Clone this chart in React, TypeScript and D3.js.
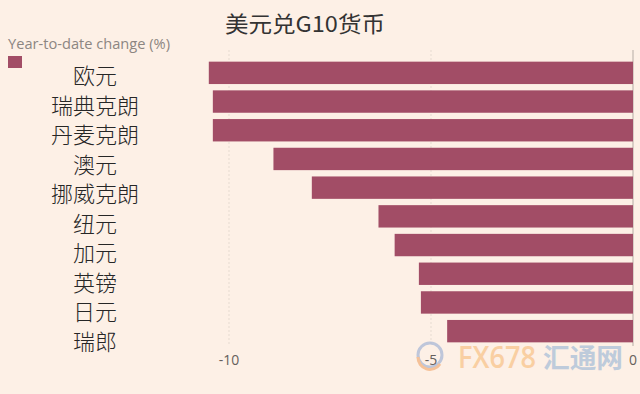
import React from 'react';
import * as d3 from 'd3';

const width = 640;
const height = 394;

// 年初至今涨跌幅 (%)
const currencies = ['欧元', '瑞典克朗', '丹麦克朗', '澳元', '挪威克朗', '纽元', '加元', '英镑', '日元', '瑞郎'];
const changes = [-10.5, -10.4, -10.4, -8.9, -7.95, -6.3, -5.9, -5.3, -5.25, -4.6];
const tickValues = [-10, -5, 0];

const bg = '#fdf0e6';
const barColor = '#a24d66';
const cjk = '"Noto Sans CJK SC", "Noto Sans", sans-serif';
const latin = '"Open Sans", "Noto Sans", sans-serif';

const App = () => {
  const xScale = d3.scaleLinear().domain([-10, 0]).range([229, 633]);

  const yScale = d3.scaleBand()
    .domain(currencies)
    .range([58.5, 345.5])
    .paddingInner(0.22)
    .paddingOuter(0.11);

  // 类别标签是手工排的，与条形并不完全对齐
  const labelScale = d3.scalePoint().domain(currencies).range([74, 340]);

  const data = currencies.map((c, i) => ({ name: c, value: changes[i] }));

  return (
    <div style={{ position: 'absolute', left: 0, top: 0 }}>
      <svg width={width} height={height} viewBox={`0 0 ${width} ${height}`} style={{ display: 'block' }}>
        <rect width={width} height={height} fill={bg} />

        <text x={225} y={22} dominantBaseline="central" fontFamily={cjk} fontSize={22} fill="#333"
          textLength={160} lengthAdjust="spacingAndGlyphs">
          美元兑G10货币
        </text>

        <text x={8} y={49} fontFamily={latin} fontSize={14} fill="#8c8682"
          textLength={162} lengthAdjust="spacingAndGlyphs">
          Year-to-date change (%)
        </text>
        <rect x={8} y={56} width={14} height={12} fill={barColor} />

        {/* 网格线 */}
        {tickValues.map((t) => (
          <line
            key={t}
            x1={xScale(t)}
            x2={xScale(t)}
            y1={50}
            y2={346}
            stroke={t === 0 ? '#b5aca5' : '#e6dbd1'}
            strokeWidth={1}
            strokeDasharray={t === 0 ? null : '2,2'}
          />
        ))}

        {data.map((d) => (
          <rect
            key={d.name}
            x={xScale(d.value)}
            y={yScale(d.name)}
            width={xScale(0) - xScale(d.value)}
            height={yScale.bandwidth()}
            fill={barColor}
          />
        ))}

        {data.map((d) => (
          <text
            key={d.name}
            x={95}
            y={labelScale(d.name)}
            dominantBaseline="central"
            textAnchor="middle"
            fontFamily={cjk}
            fontSize={22}
            fontWeight={300}
            fill="#262626"
          >
            {d.name}
          </text>
        ))}

        {/* 水印 */}
        <g opacity={0.75}>
          <circle cx={430} cy={355} r={12} fill="none" stroke="#a9b8d6" strokeWidth={3} />
          <path d="M418,357 A12,12 0 0 0 440,364" fill="none" stroke="#f3b27e" strokeWidth={3} />
          <text x={458} y={356} dominantBaseline="central" fontFamily={latin} fontSize={30} fontWeight={600}
            fill="#f8c48c" textLength={78} lengthAdjust="spacingAndGlyphs">FX678</text>
          <text x={543} y={356} dominantBaseline="central" fontFamily={cjk} fontSize={27} fontWeight={700}
            fill="#a9bfd8" textLength={80} lengthAdjust="spacingAndGlyphs">汇通网</text>
        </g>

        {tickValues.map((t) => (
          <text
            key={t}
            x={xScale(t)}
            y={359}
            dominantBaseline="central"
            textAnchor="middle"
            fontFamily={latin}
            fontSize={14}
            fill="#66605c"
          >
            {t}
          </text>
        ))}
      </svg>
    </div>
  );
};

export default App;
